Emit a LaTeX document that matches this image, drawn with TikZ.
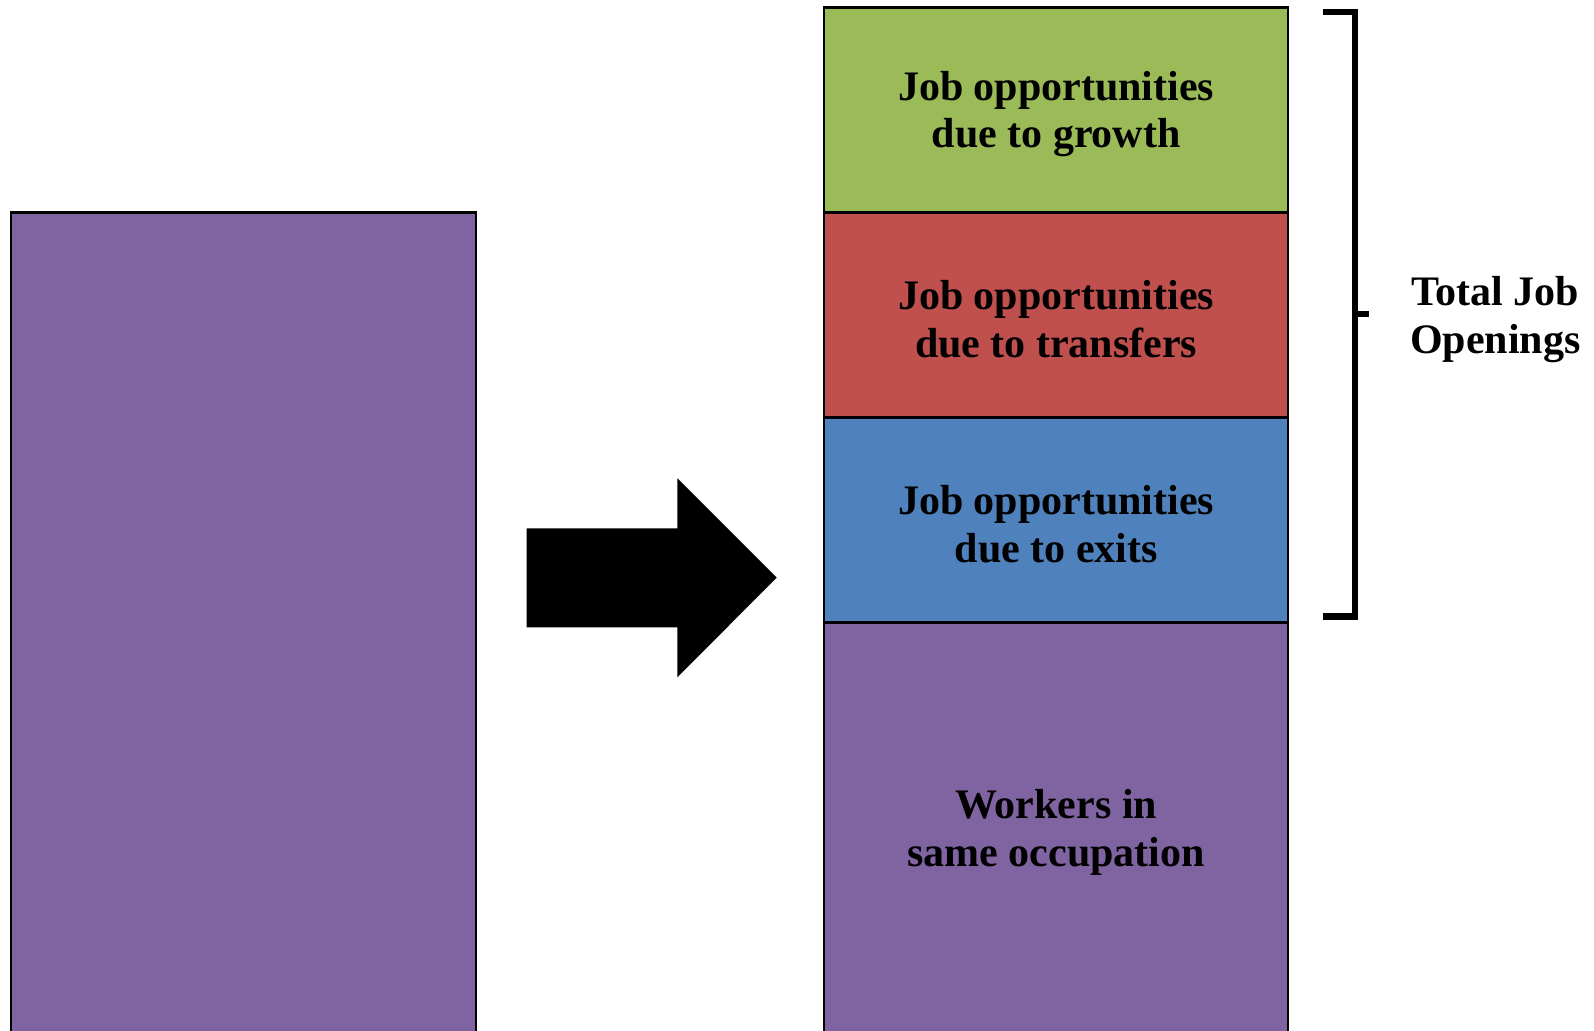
\documentclass[tikz,border=0pt]{standalone}
\usepackage{fontspec}
\setmainfont{Liberation Serif}
\usetikzlibrary{positioning}

\definecolor{growthgreen}{HTML}{9BBB59}
\definecolor{transferred}{HTML}{C0504D}
\definecolor{exitblue}{HTML}{4F81BD}
\definecolor{samepurple}{HTML}{8064A2}

\tikzset{
    block/.style = {draw = black, line width = 0.6pt, minimum width = 4.645cm, inner sep = 0pt, outer sep = 0pt},
    words/.style = {align = center, yshift = -0.04cm, font = \fontsize{11.95}{13.6}\selectfont\bfseries}
}

\begin{document}
\begin{tikzpicture}
            \useasboundingbox (0, 0) rectangle (15.94, 10.31);

                % Current employment:
                \node[block, fill = samepurple, minimum height = 8.285cm] (current) at (2.4335, 4.0425) {};

                % Arrow:
                \fill[black] (5.267, 4.037) -- (5.267, 5.027) -- (6.773, 5.027) -- (6.773, 5.527)
                    -- (7.767, 4.533) -- (6.773, 3.537) -- (6.773, 4.037) -- cycle;

                % Stack:
                \node[block, fill = growthgreen, minimum height = 2.05cm,
                    label = {[words]center:{Job opportunities\\due to growth}}] (growth) at (10.5615, 9.21) {};
                \node[block, fill = transferred, minimum height = 2.05cm, below = 0pt of growth,
                    label = {[words]center:{Job opportunities\\due to transfers}}] (transfers) {};
                \node[block, fill = exitblue, minimum height = 2.05cm, below = 0pt of transfers,
                    label = {[words]center:{Job opportunities\\due to exits}}] (exits) {};
                \node[block, fill = samepurple, minimum height = 4.115cm, below = 0pt of exits,
                    label = {[words]center:{Workers in\\same occupation}}] (same) {};

                % Bracket:
                \coordinate (tick) at (13.693, 7.17);
                \draw[line width = 1.75pt] (13.233, 10.193) -- (13.55, 10.193) -- (13.55, 4.145) -- (13.233, 4.145);
                \draw[line width = 1.75pt] (13.55, 7.17) -- (tick);
                \node[words] (total) at (14.954, 7.153) {Total Job\\Openings};
            \end{tikzpicture}
\end{document}
